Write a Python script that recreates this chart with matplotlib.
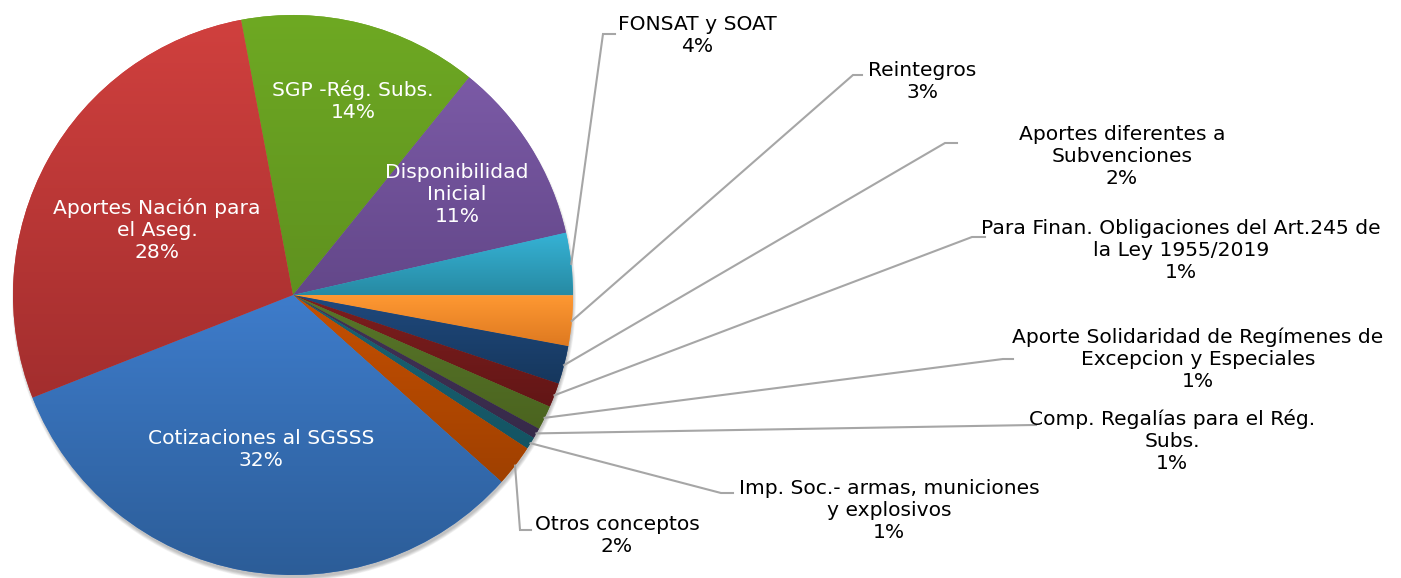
import numpy as np
import matplotlib.pyplot as plt
from matplotlib.colors import to_rgb

# datos del gráfico (en orden horario desde SGP)
labels = ["SGP -Rég. Subs.", "Disponibilidad\nInicial", "FONSAT y SOAT", "Reintegros",
          "Aportes diferentes a\nSubvenciones",
          "Para Finan. Obligaciones del Art.245 de\nla Ley 1955/2019",
          "Aporte Solidaridad de Regímenes de\nExcepcion y Especiales",
          "Comp. Regalías para el Rég.\nSubs.",
          "Imp. Soc.- armas, municiones\ny explosivos",
          "Otros conceptos", "Cotizaciones al SGSSS", "Aportes Nación para\nel Aseg."]
values = [13.8, 10.6, 3.6, 2.9, 2.2, 1.4, 1.4, 0.6, 0.7, 2.4, 32.4, 28.0]
# color arriba / abajo (degradado)
top_colors = ["#6ea923", "#7b5aa6", "#36b3d6", "#ff9933", "#1f497d", "#7e1e1e",
              "#58762a", "#423357", "#1a6474", "#c65002", "#3e7ccb", "#d0403e"]
bot_colors = ["#5f911f", "#634789", "#278aa3", "#de7920", "#16375d", "#621616",
              "#4b641f", "#372a49", "#145463", "#9f4000", "#2c5d98", "#a32e2e"]
inside = [0, 1, 10, 11]

W, H = 1401, 578
# posiciones en píxeles de la imagen (y hacia abajo)
text_pos = {0: (353, 101), 1: (457, 195), 10: (261, 450), 11: (157, 230),
            2: (697, 35), 3: (922, 81), 4: (1122, 157), 5: (1181, 251),
            6: (1198, 359), 7: (1172, 441), 8: (889, 511), 9: (617, 536)}
elbows = {2: ((603, 34), (615, 34)), 3: ((853, 75), (862, 75)),
          4: ((945, 143), (957, 143)), 5: ((972, 237), (985, 237)),
          6: ((1003, 359), (1013, 359)), 7: ((1033, 425), (1036, 425)),
          8: ((721, 493), (733, 493)), 9: ((520, 530), (531, 530))}

cx, cy, r = 293, H - 295, 280

fig = plt.figure(figsize=(W / 100, H / 100), dpi=100)
ax = fig.add_axes([0, 0, 1, 1])
ax.set_axis_off()

# sombra suave (abajo)
for i in range(6):
    sh = plt.Circle((cx + 1, cy - 4), r - 1 + i * 0.6, color="k", alpha=0.045, lw=0)
    ax.add_patch(sh)

wedges, _ = ax.pie(values, startangle=100.7, counterclock=False, radius=r,
                   center=(cx, cy), colors=top_colors,
                   wedgeprops=dict(linewidth=0))

for w, c1, c2 in zip(wedges, top_colors, bot_colors):
    bb = w.get_path().get_extents()
    t = np.linspace(0, 1, 256)[:, None, None]
    grad = np.array(to_rgb(c2))[None, None, :] * (1 - t) + np.array(to_rgb(c1))[None, None, :] * t
    im = ax.imshow(grad, extent=[bb.x0, bb.x1, bb.y0, bb.y1], origin="lower",
                   aspect="auto", interpolation="bilinear", zorder=w.get_zorder() + 0.1)
    im.set_clip_path(w)

total = sum(values)
fs = 14.6
for i, lab in enumerate(labels):
    txt = "%s\n%d%%" % (lab, round(values[i] / total * 100))
    x, y = text_pos[i]
    col = "white" if i in inside else "black"
    ax.text(x, H - y, txt, ha="center", va="center", fontsize=fs, color=col,
            linespacing=1.2, family="DejaVu Sans", zorder=5)
    if i in elbows:
        w = wedges[i]
        a = np.deg2rad((w.theta1 + w.theta2) / 2)
        px, py = cx + r * np.cos(a), cy + r * np.sin(a)
        (ex, ey), (hx, hy) = elbows[i]
        ax.plot([px, ex, hx], [py, H - ey, H - hy], color="#a6a6a6", lw=1.5,
                solid_joinstyle="miter", zorder=4)

ax.set_xlim(0, W)
ax.set_ylim(0, H)
ax.set_aspect("equal")
fig.savefig("out.png", dpi=100)
